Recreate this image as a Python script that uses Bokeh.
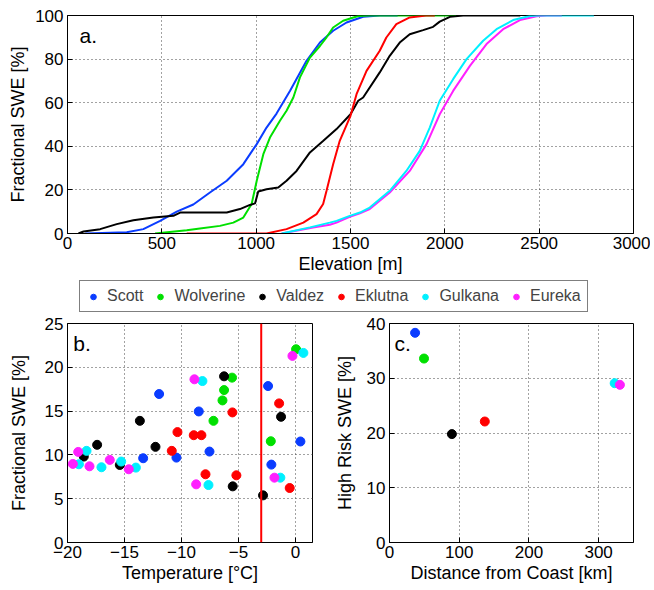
from bokeh.plotting import figure
from bokeh.models import Range1d, Span, Label, Legend, LegendItem, FixedTicker
from bokeh.layouts import column, row
from bokeh.embed import file_html
from bokeh.resources import INLINE

FONT = "Liberation Sans"

stations = ["Scott", "Wolverine", "Valdez", "Eklutna", "Gulkana", "Eureka"]
colors = ["#0a3cff", "#00e000", "#000000", "#ff0000", "#00f0ff", "#ff20ff"]

# ---- panel a: cumulative fractional SWE vs elevation ----
scott_elev = [94, 314, 402, 491, 579, 667, 755, 844, 932, 1003, 1055, 1108, 1179, 1267, 1338, 1408, 1479, 1567, 1655, 1750]
scott_pct = [0, 0.6, 2, 5.8, 10, 13.3, 18.8, 24.2, 31.8, 41, 48.6, 55, 65.4, 79.2, 87.6, 93, 96.8, 99.4, 100, 100]
wolv_elev = [464, 632, 702, 808, 879, 932, 976, 1003, 1038, 1073, 1126, 1161, 1197, 1232, 1285, 1338, 1373, 1408, 1461, 1541, 1600, 2060]
wolv_pct = [0, 1.5, 2.3, 3.5, 5, 7.3, 13.5, 24.2, 36.4, 44, 51.7, 56.3, 62.4, 71.6, 80.7, 86, 90, 94.5, 97.6, 99.8, 100, 100]
vald_elev = [58, 85, 173, 261, 349, 455, 561, 597, 667, 844, 914, 967, 994, 1011, 1055, 1117, 1161, 1214, 1285, 1356, 1426, 1500, 1541, 1567, 1655, 1708, 1761, 1814, 1885, 1938, 1973, 2027, 2097, 2400]
vald_pct = [0, 0.9, 2, 4.3, 6.1, 7.3, 8.1, 9.6, 9.6, 9.6, 11.2, 13.1, 13.8, 19.3, 20.3, 21.1, 24.2, 28.7, 37.2, 42.5, 47.9, 54.7, 60.9, 62.4, 73.9, 81.5, 87.6, 91.4, 93.3, 94.8, 97.2, 99.4, 100, 100]
eklu_elev = [632, 1055, 1161, 1250, 1320, 1355, 1373, 1408, 1443, 1500, 1532, 1585, 1655, 1690, 1743, 1814, 1900, 1947]
eklu_pct = [0, 0, 2, 5, 8.9, 13.5, 19.6, 31.8, 42.5, 54, 63.9, 74.6, 83.8, 89.9, 96, 99.1, 100, 100]
gulk_elev = [1135, 1285, 1390, 1426, 1496, 1550, 1602, 1708, 1796, 1867, 1920, 1973, 2044, 2115, 2203, 2274, 2362, 2451, 2500, 2790]
gulk_pct = [0, 2.8, 5, 5.8, 8.1, 9.6, 11.9, 19.6, 28.7, 37.9, 48.6, 60.9, 70.8, 80, 88.4, 93.7, 97.9, 99.8, 100, 100]
eure_elev = [1135, 1302, 1390, 1426, 1496, 1550, 1602, 1708, 1814, 1903, 1973, 2044, 2133, 2221, 2309, 2398, 2486, 2540, 2620]
eure_pct = [0, 2.8, 4, 5, 7.6, 9.3, 11.2, 18.8, 28.7, 41, 54.7, 65.4, 76.9, 86.9, 93.7, 97.9, 99.7, 100, 100]

# ---- panel b: fractional SWE vs temperature ----
b_temp = {
    "Scott": [-13.36, -11.96, -10.44, -8.48, -7.54, -2.40, -2.11, 0.44],
    "Wolverine": [-7.19, -6.40, -6.26, -5.56, -2.16, 0.06],
    "Valdez": [-18.57, -17.40, -15.41, -13.65, -12.28, -6.26, -5.50, -2.84, -1.26],
    "Eklutna": [-10.85, -10.35, -8.92, -8.25, -7.89, -5.53, -5.18, -1.43, -0.50],
    "Gulkana": [-19.0, -18.33, -17.02, -15.29, -14.0, -8.16, -7.63, -1.32, 0.70],
    "Eureka": [-19.53, -19.06, -18.07, -16.29, -14.62, -8.86, -8.71, -1.84, -0.26],
}
b_swe = {
    "Scott": [9.62, 16.95, 9.69, 14.96, 10.38, 17.86, 8.89, 11.53],
    "Wolverine": [13.89, 16.22, 17.40, 18.82, 11.56, 22.06],
    "Valdez": [9.81, 11.15, 8.85, 13.89, 10.92, 18.97, 6.41, 5.38, 14.35],
    "Eklutna": [10.46, 12.6, 12.25, 12.25, 7.79, 14.85, 7.67, 15.88, 6.22],
    "Gulkana": [8.93, 10.46, 8.59, 9.24, 8.55, 18.43, 6.56, 7.40, 21.64],
    "Eureka": [8.97, 10.34, 8.70, 9.43, 8.36, 18.63, 6.64, 7.40, 21.3],
}
b_xticks = [-20, -15, -10, -5, 0]
threshold_temp = -3

# ---- panel c: high risk SWE vs distance from coast ----
c_dist = [36.7, 49.5, 89.5, 136.7, 323.0, 330.5]
c_swe = [38.3, 33.6, 19.8, 22.1, 29.1, 28.8]


def style(p, xt, yt, xlabel, ylabel, ylab_standoff):
    p.outline_line_color = "black"
    p.outline_line_width = 1
    p.xaxis.ticker = FixedTicker(ticks=xt)
    p.yaxis.ticker = FixedTicker(ticks=yt)
    for ax in (p.xaxis[0], p.yaxis[0]):
        ax.axis_line_color = "black"
        ax.major_tick_in = 5
        ax.major_tick_out = 0
        ax.minor_tick_line_color = None
        ax.major_label_text_font = FONT
        ax.major_label_text_font_size = "17px"
        ax.major_label_text_color = "black"
        ax.axis_label_text_font = FONT
        ax.axis_label_text_font_size = "18px"
        ax.axis_label_text_font_style = "normal"
        ax.axis_label_text_color = "black"
    p.xaxis.axis_label = xlabel
    p.yaxis.axis_label = ylabel
    p.xaxis.major_label_standoff = 3
    p.yaxis.major_label_standoff = 4
    p.xaxis.axis_label_standoff = 2
    p.yaxis.axis_label_standoff = ylab_standoff
    for g in (p.xgrid[0], p.ygrid[0]):
        g.grid_line_color = "#444444"
        g.grid_line_dash = "1 3"
        g.grid_line_width = 1
    p.background_fill_color = "white"
    p.border_fill_color = "white"


# Panel a
pa = figure(width=650, height=278, output_backend="svg", toolbar_location=None,
            x_range=Range1d(0, 3000), y_range=Range1d(0, 100),
            min_border_left=67, min_border_right=17, min_border_top=15, min_border_bottom=45)
style(pa, list(range(0, 3001, 500)), list(range(0, 101, 20)), "Elevation [m]", "Fractional SWE [%]", 4)
curves = [(scott_elev, scott_pct), (wolv_elev, wolv_pct), (vald_elev, vald_pct),
          (eklu_elev, eklu_pct), (eure_elev, eure_pct), (gulk_elev, gulk_pct)]
curve_cols = [colors[0], colors[1], colors[2], colors[3], colors[5], colors[4]]
for (xs, ys), c in zip(curves, curve_cols):
    pa.line(xs, ys, line_color=c, line_width=2)
pa.add_layout(Label(x=64, y=91, text="a.", text_font=FONT, text_font_size="21px",
                    text_baseline="middle", text_color="black"))

# Legend strip (its frame is aligned with panel a's frame by the column layout)
pl = figure(width=650, height=35, output_backend="svg", toolbar_location=None,
            x_range=Range1d(0, 1), y_range=Range1d(0, 1),
            x_axis_location=None, y_axis_location=None, outline_line_color=None,
            min_border=0, min_border_left=0, min_border_right=0,
            min_border_top=0, min_border_bottom=0)
pl.xgrid.visible = False
pl.ygrid.visible = False
items = []
for s, c in zip(stations, colors):
    r = pl.scatter(x=[-5], y=[-5], size=6, fill_color=c, line_color=c)
    items.append(LegendItem(label=s, renderers=[r]))
leg = Legend(items=items, orientation="horizontal", location=(12, 1),
             label_text_font=FONT, label_text_font_size="16px",
             border_line_color="black", border_line_width=1,
             margin=0, padding=6, spacing=10, glyph_width=14, glyph_height=15,
             label_height=15, label_standoff=7, background_fill_alpha=1)
pl.add_layout(leg, "center")

# Panel b
pb = figure(width=330, height=274, output_backend="svg", toolbar_location=None,
            x_range=Range1d(-20, 1.5), y_range=Range1d(0, 25),
            min_border_left=67, min_border_right=18, min_border_top=10, min_border_bottom=45)
style(pb, b_xticks, list(range(0, 26, 5)), "Temperature [°C]", "Fractional SWE [%]", 13)
pb.xaxis.major_label_overrides = {t: (str(t).replace("-", "\u2212")) for t in b_xticks}
pb.add_layout(Span(location=threshold_temp, dimension="height", line_color="#ff0000", line_width=2))
for s, c in zip(stations, colors):
    pb.scatter(b_temp[s], b_swe[s], size=9, fill_color=c, line_color=c)
pb.add_layout(Label(x=-19.5, y=22.7, text="b.", text_font=FONT, text_font_size="21px",
                    text_baseline="middle", text_color="black"))

# Panel c
pc = figure(width=320, height=274, output_backend="svg", toolbar_location=None,
            x_range=Range1d(0, 350), y_range=Range1d(0, 40),
            min_border_left=59, min_border_right=17, min_border_top=10, min_border_bottom=45)
style(pc, [0, 100, 200, 300], [0, 10, 20, 30, 40], "Distance from Coast [km]", "High Risk SWE [%]", 9)
pc.scatter(c_dist, c_swe, size=9, fill_color=colors, line_color=colors)
pc.add_layout(Label(x=7.2, y=36.4, text="c.", text_font=FONT, text_font_size="21px",
                    text_baseline="middle", text_color="black"))

layout = column(pa, pl, row(pb, pc, spacing=0), spacing=0)
open("out.html", "w").write(file_html(layout, INLINE))
